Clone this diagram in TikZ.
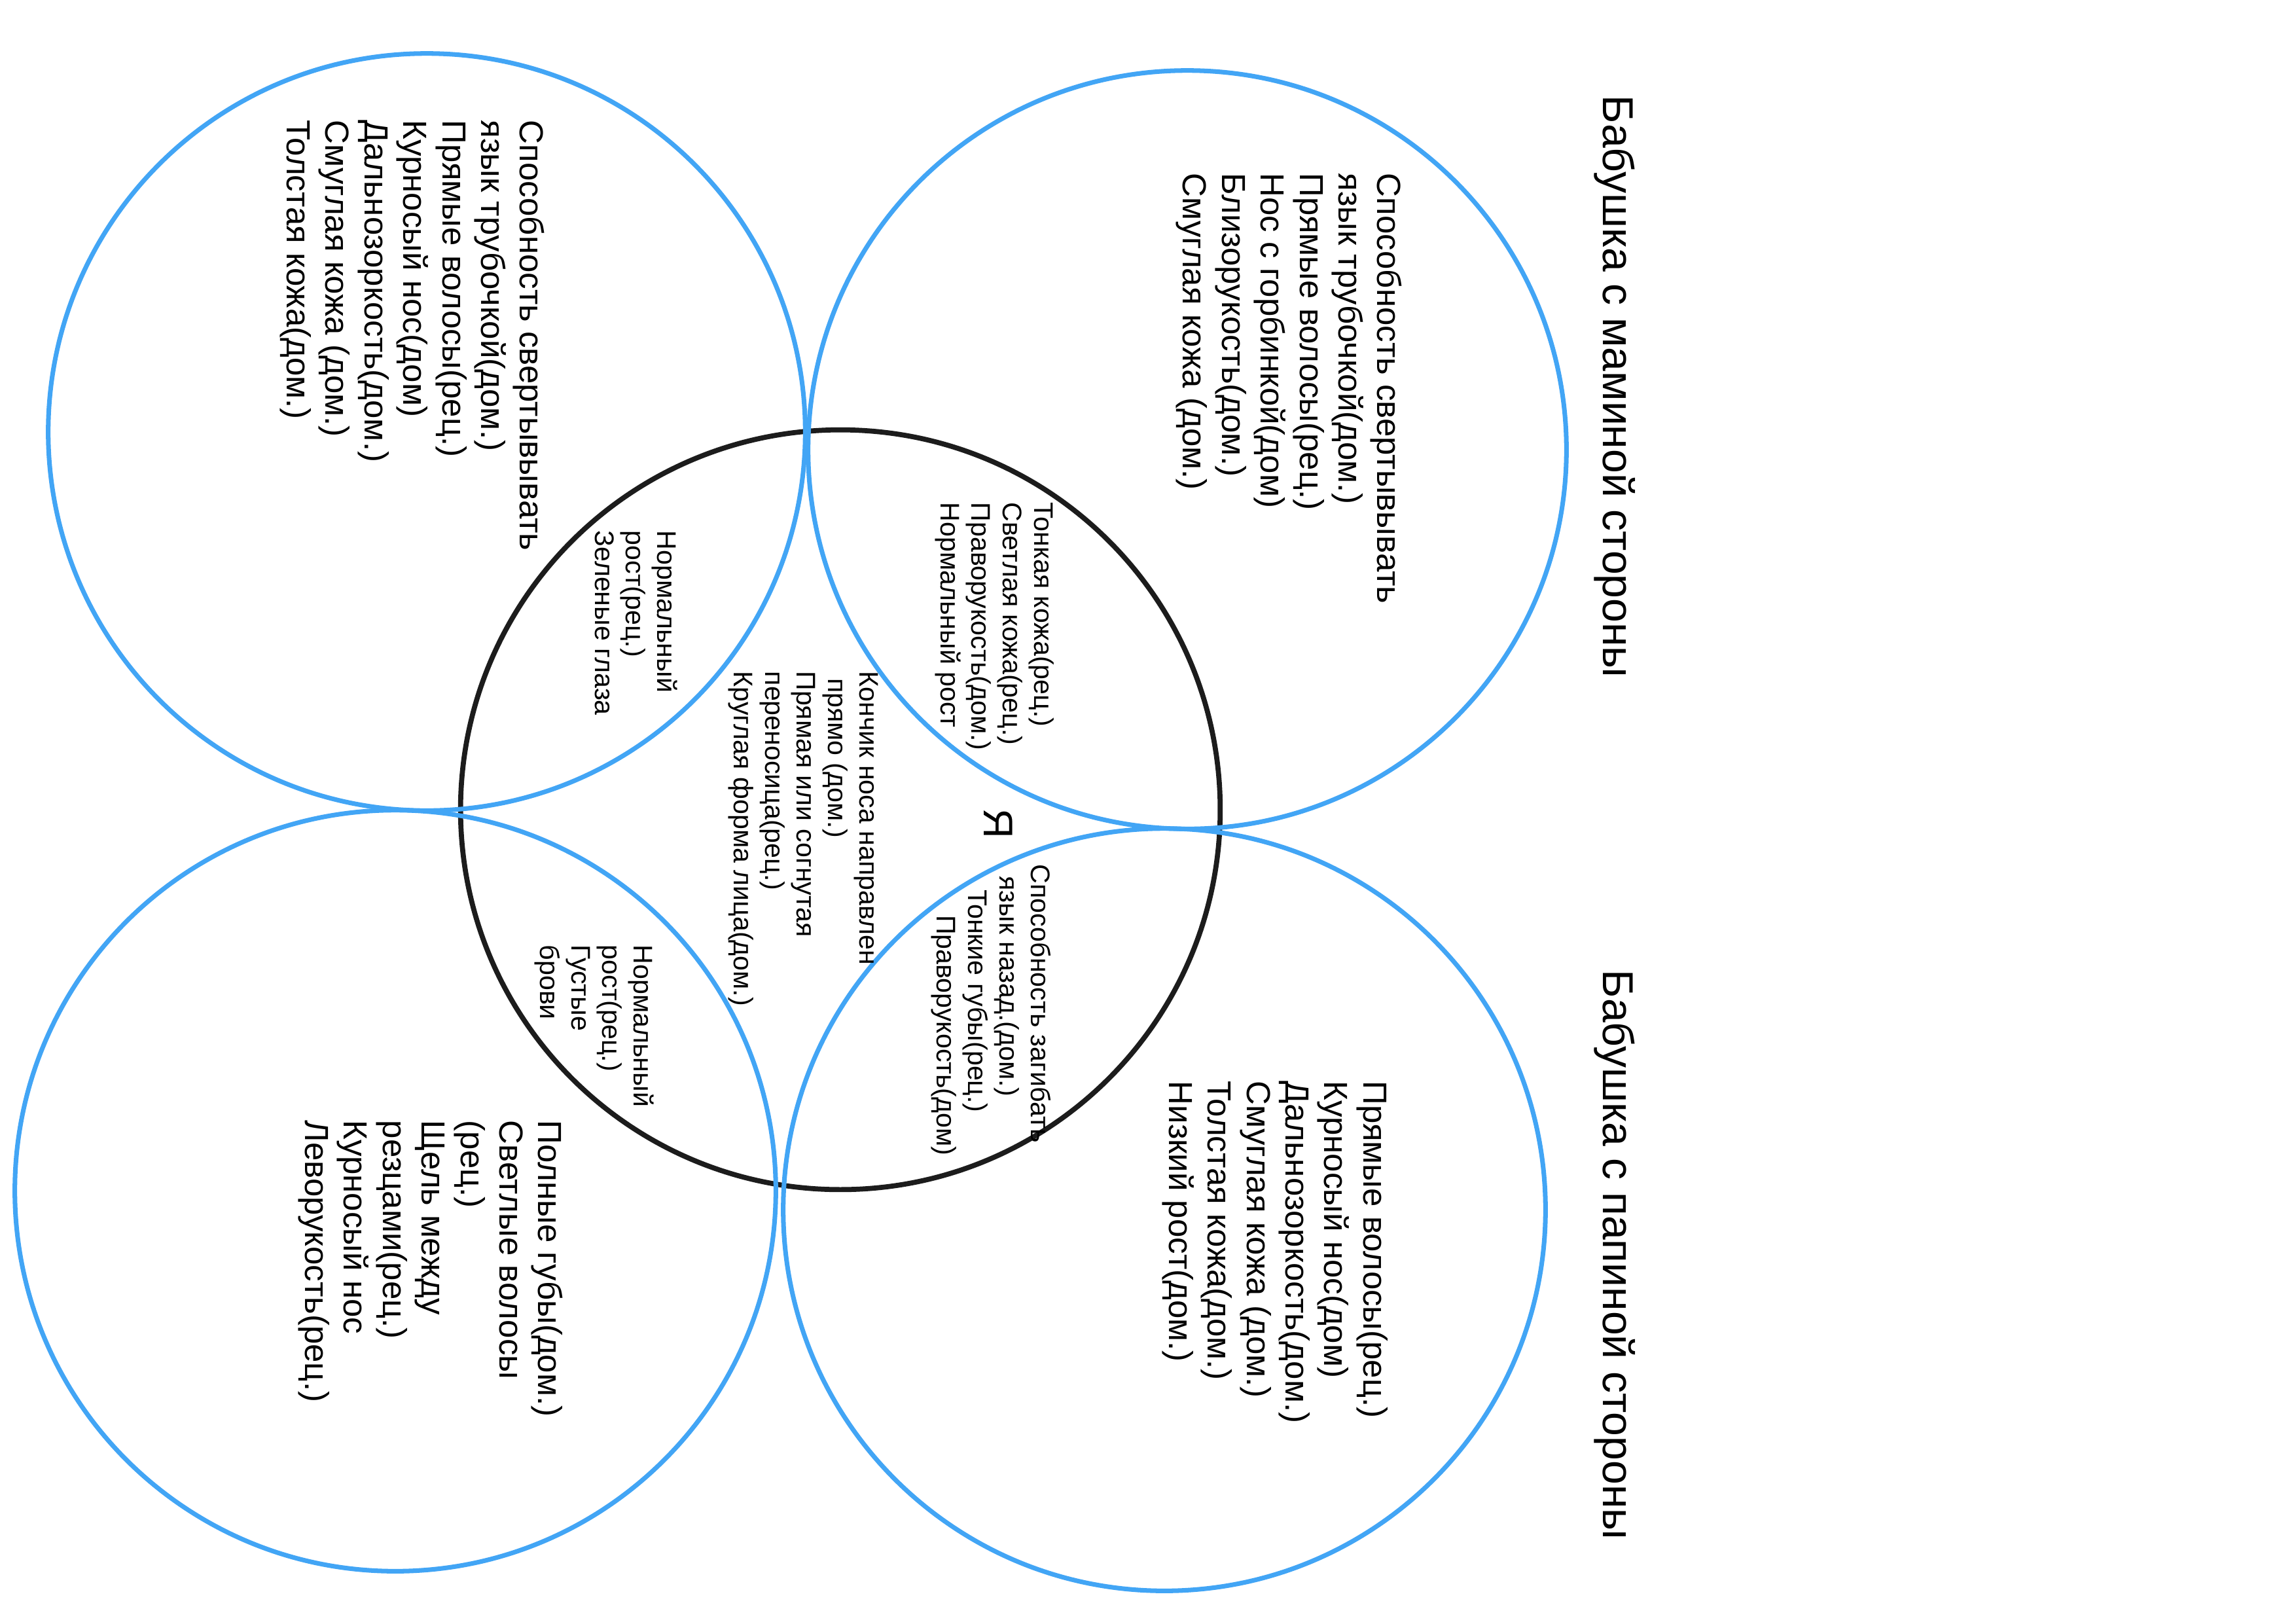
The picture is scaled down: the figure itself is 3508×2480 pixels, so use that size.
\documentclass[tikz,border=0pt]{standalone}
\usepackage{fontspec}
\setmainfont{Liberation Sans}
\usepackage{xcolor}
\usepackage{tikz}
\definecolor{goluboj}{RGB}{66,165,245}
\definecolor{chernyj}{RGB}{28,28,28}

\tikzset{
  krug/.style={line width=2pt, draw=goluboj},
  krugya/.style={line width=2.2pt, draw=chernyj},
  spisok/.style={rotate=-90, anchor=north west, inner sep=0pt, align=left,
    font=\fontsize{14.5}{16.9}\selectfont},
  melko/.style={rotate=-90, anchor=north west, inner sep=0pt, align=left,
    font=\fontsize{11.7}{13.6}\selectfont},
  zagolovok/.style={rotate=-90, anchor=north west, inner sep=0pt,
    font=\fontsize{18.8}{22}\selectfont}
}

\begin{document}
\begin{tikzpicture}[x=0.01cm, y=-0.01cm]
        \useasboundingbox (0,0) rectangle (3508,2480);

        % Круги
        \coordinate (mama) at (652,660);
        \coordinate (mamababa) at (1814,687);
        \coordinate (papa) at (604,1819);
        \coordinate (papababa) at (1779,1848);
        \coordinate (ya) at (1284,1237);
        \draw[krugya] (ya) circle[radius=5.80cm];
        \draw[krug] (mama) circle[radius=5.78cm];
        \draw[krug] (mamababa) circle[radius=5.79cm];
        \draw[krug] (papa) circle[radius=5.81cm];
        \draw[krug] (papababa) circle[radius=5.82cm];

        % Бабушки
        \node[zagolovok] (titulmama) at (2499,145) {Бабушка с маминой стороны};
        \node[zagolovok] (titulpapa) at (2499,1481) {Бабушка с папиной стороны};

        % Мама
        \node[spisok] (spmama) at (833,183) {Способность свертывывать\\язык трубочкой(дом.)\\Прямые волосы(рец.)\\Курносый нос(дом)\\Дальнозоркость(дом.)\\Смуглая кожа (дом.)\\Толстая кожа(дом.)};

        % Бабушка (мама)
        \node[spisok] (spmamababa) at (2143,264) {Способность свертывывать\\язык трубочкой(дом.)\\Прямые волосы(рец.)\\Нос с горбинкой(дом)\\Близорукость(дом.)\\Смуглая кожа (дом.)};

        % Папа
        \node[spisok] (sppapa) at (861,1711) {Полные губы(дом.)\\Светлые волосы\\(рец.)\\Щель между\\резцами(рец.)\\Курносый нос\\Леворукость(рец.)};

        % Бабушка (папа)
        \node[spisok] (sppapababa) at (2121,1651) {Прямые волосы(рец.)\\Курносый нос(дом)\\Дальнозоркость(дом.)\\Смуглая кожа (дом.)\\Толстая кожа(дом.)\\Низкий рост(дом.)};

        % Пересечения
        \node[melko] (obmama) at (1036,810) {Нормальный\\рост(рец.)\\Зеленые глаза};
        \node[melko] (obmamababa) at (1611,767) {Тонкая кожа(рец.)\\Светлая кожа(рец.)\\Праворукость(дом.)\\Нормальный рост};
        \node[melko] (obpapa) at (1000,1443) {Нормальный\\рост(рец.)\\Густые\\брови};
        \node[melko] (obpapababa) at (1606,1320) {Способность загибать\\\hspace{5pt}язык назад.(дом.)\\\hspace{11pt}Тонкие губы(рец.)\\\hspace{22pt}Праворукость(дом)};
        \node[melko] (obshee) at (1342,1025) {Кончик носа направлен\\\hspace{3pt}прямо (дом.)\\Прямая или согнутая\\переносица(рец.)\\Круглая форма лица(дом.)};

        % Я
        \node[zagolovok, anchor=center, font=\fontsize{18}{21}\selectfont] (bukvaya) at (1525,1258) {Я};
\end{tikzpicture}
\end{document}
